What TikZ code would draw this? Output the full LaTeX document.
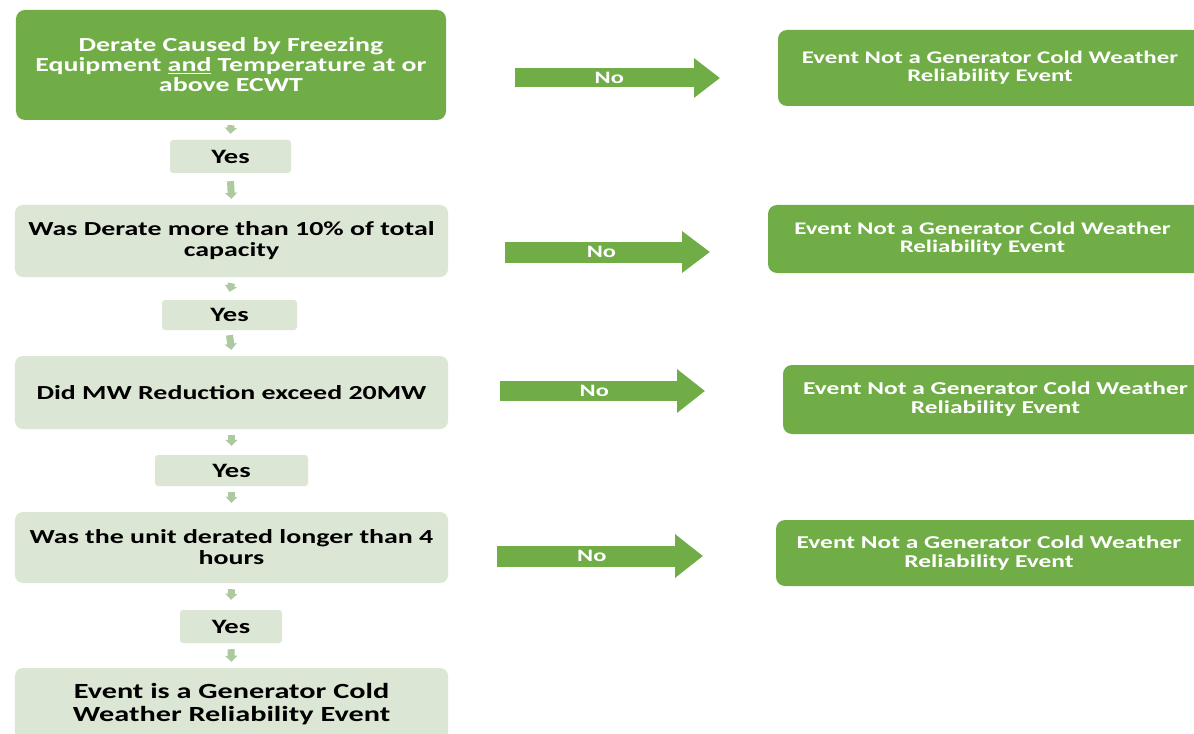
\documentclass[tikz,border=0pt]{standalone}
\usepackage{fontspec}
\setmainfont{Carlito}[FakeStretch=1.4]
\usetikzlibrary{arrows.meta}
\definecolor{dkgreen}{HTML}{70AD47}
\definecolor{ltgreen}{HTML}{DCE6D5}
\definecolor{argreen}{HTML}{ADC99F}
\tikzset{
  darkbox/.style={fill=dkgreen, rounded corners=9bp, text=white, align=center, inner sep=0pt, font=\bfseries},
  lightbox/.style={fill=ltgreen, rounded corners=8bp, text=black, align=center, inner sep=0pt, font=\bfseries},
  yesbox/.style={fill=ltgreen, rounded corners=3bp, text=black, align=center, inner sep=0pt, font=\bfseries\fontsize{20.5}{22}\selectfont},
  downarrow/.style={draw=argreen, line width=7bp, -{Triangle[width=12bp,length=6bp]}},
  bigarrow/.style={draw=dkgreen, line width=19bp, -{Triangle[width=38bp,length=26bp]}},
  nolabel/.style={text=white, font=\bfseries\fontsize{17.5}{19}\selectfont, inner sep=0pt},
  rtext/.style={font=\bfseries\fontsize{17.8}{18}\selectfont}
}
\begin{document}
\begin{tikzpicture}[x=1bp,y=-1bp]
\clip (0,0) rectangle (1194,734);
\fill[white] (0,0) rectangle (1194,734);
% left column
\node[darkbox, minimum width=430bp, minimum height=110bp, font=\bfseries\fontsize{20}{20}\selectfont] (b1) at (231,65)
  {Derate Caused by Freezing\\Equipment \underline{and} Temperature at or\\above ECWT};
\node[yesbox, minimum width=121bp, minimum height=33bp] (y1) at (230.5,156.5) {Yes};
\node[lightbox, minimum width=433bp, minimum height=72bp, font=\bfseries\fontsize{20}{21}\selectfont] (b2) at (231.5,241)
  {Was Derate more than 10\% of total\\capacity};
\node[yesbox, minimum width=135bp, minimum height=30bp] (y2) at (229.5,315) {Yes};
\node[lightbox, minimum width=433bp, minimum height=73bp, font=\bfseries\fontsize{20}{21}\selectfont] (b3) at (231.5,392.5)
  {Did MW Reduction exceed 20MW};
\node[yesbox, minimum width=153bp, minimum height=31bp] (y3) at (231.5,470.5) {Yes};
\node[lightbox, minimum width=433bp, minimum height=71bp, font=\bfseries\fontsize{20}{21}\selectfont] (b4) at (231.5,547.5)
  {Was the unit derated longer than 4\\hours};
\node[yesbox, minimum width=102bp, minimum height=33bp] (y4) at (231,626.5) {Yes};
\node[lightbox, minimum width=433bp, minimum height=72bp, font=\bfseries\fontsize{21.7}{23}\selectfont] (b5) at (231.5,704)
  {Event is a Generator Cold\\Weather Reliability Event};
% right column
\node[darkbox, rtext, minimum width=430bp, minimum height=76bp] (r1) at (993,68)
  {\hspace*{-6bp}Event Not a Generator Cold Weather\\\hspace*{-6bp}Reliability Event};
\node[darkbox, rtext, minimum width=440bp, minimum height=68bp] (r2) at (988,239)
  {\hspace*{-11bp}Event Not a Generator Cold Weather\\\hspace*{-11bp}Reliability Event};
\node[darkbox, rtext, minimum width=425bp, minimum height=69bp, font=\bfseries\fontsize{18.2}{19}\selectfont] (r3) at (995.5,399.5)
  {Event Not a Generator Cold Weather\\Reliability Event};
\node[darkbox, rtext, minimum width=432bp, minimum height=66bp, font=\bfseries\fontsize{18.2}{19}\selectfont] (r4) at (992,553)
  {\hspace*{-6bp}Event Not a Generator Cold Weather\\\hspace*{-6bp}Reliability Event};
% down arrows
\draw[downarrow] ([yshift=-5bp]b1.south) -- ([yshift=6bp]y1.north);
\draw[downarrow] ([yshift=-8bp]y1.south) -- ([yshift=6bp]b2.north);
\draw[downarrow] ([yshift=-6bp]b2.south) -- ([yshift=8bp]y2.north);
\draw[downarrow] ([yshift=-5bp]y2.south) -- ([yshift=6bp]b3.north);
\draw[downarrow] ([yshift=-6bp]b3.south) -- ([yshift=9bp]y3.north);
\draw[downarrow] ([yshift=-6bp]y3.south) -- ([yshift=9bp]b4.north);
\draw[downarrow] ([yshift=-6bp]b4.south) -- ([yshift=10bp]y4.north);
\draw[downarrow] ([yshift=-6bp]y4.south) -- ([yshift=6bp]b5.north);
% No arrows
\coordinate (s1) at (515,78);  \coordinate (e1) at (720,78);
\coordinate (s2) at (505,252); \coordinate (e2) at (710,252);
\coordinate (s3) at (500,391); \coordinate (e3) at (705,391);
\coordinate (s4) at (497,556); \coordinate (e4) at (703,556);
\draw[bigarrow] (s1) -- (e1) node[nolabel, pos=0.46] {No};
\draw[bigarrow, line width=21bp, -{Triangle[width=40bp,length=28bp]}] (s2) -- (e2) node[nolabel, pos=0.47] {No};
\draw[bigarrow, line width=20bp, -{Triangle[width=42bp,length=28bp]}] (s3) -- (e3) node[nolabel, pos=0.46] {No};
\draw[bigarrow, line width=21bp, -{Triangle[width=42bp,length=28bp]}] (s4) -- (e4) node[nolabel, pos=0.46] {No};
\end{tikzpicture}
\end{document}
